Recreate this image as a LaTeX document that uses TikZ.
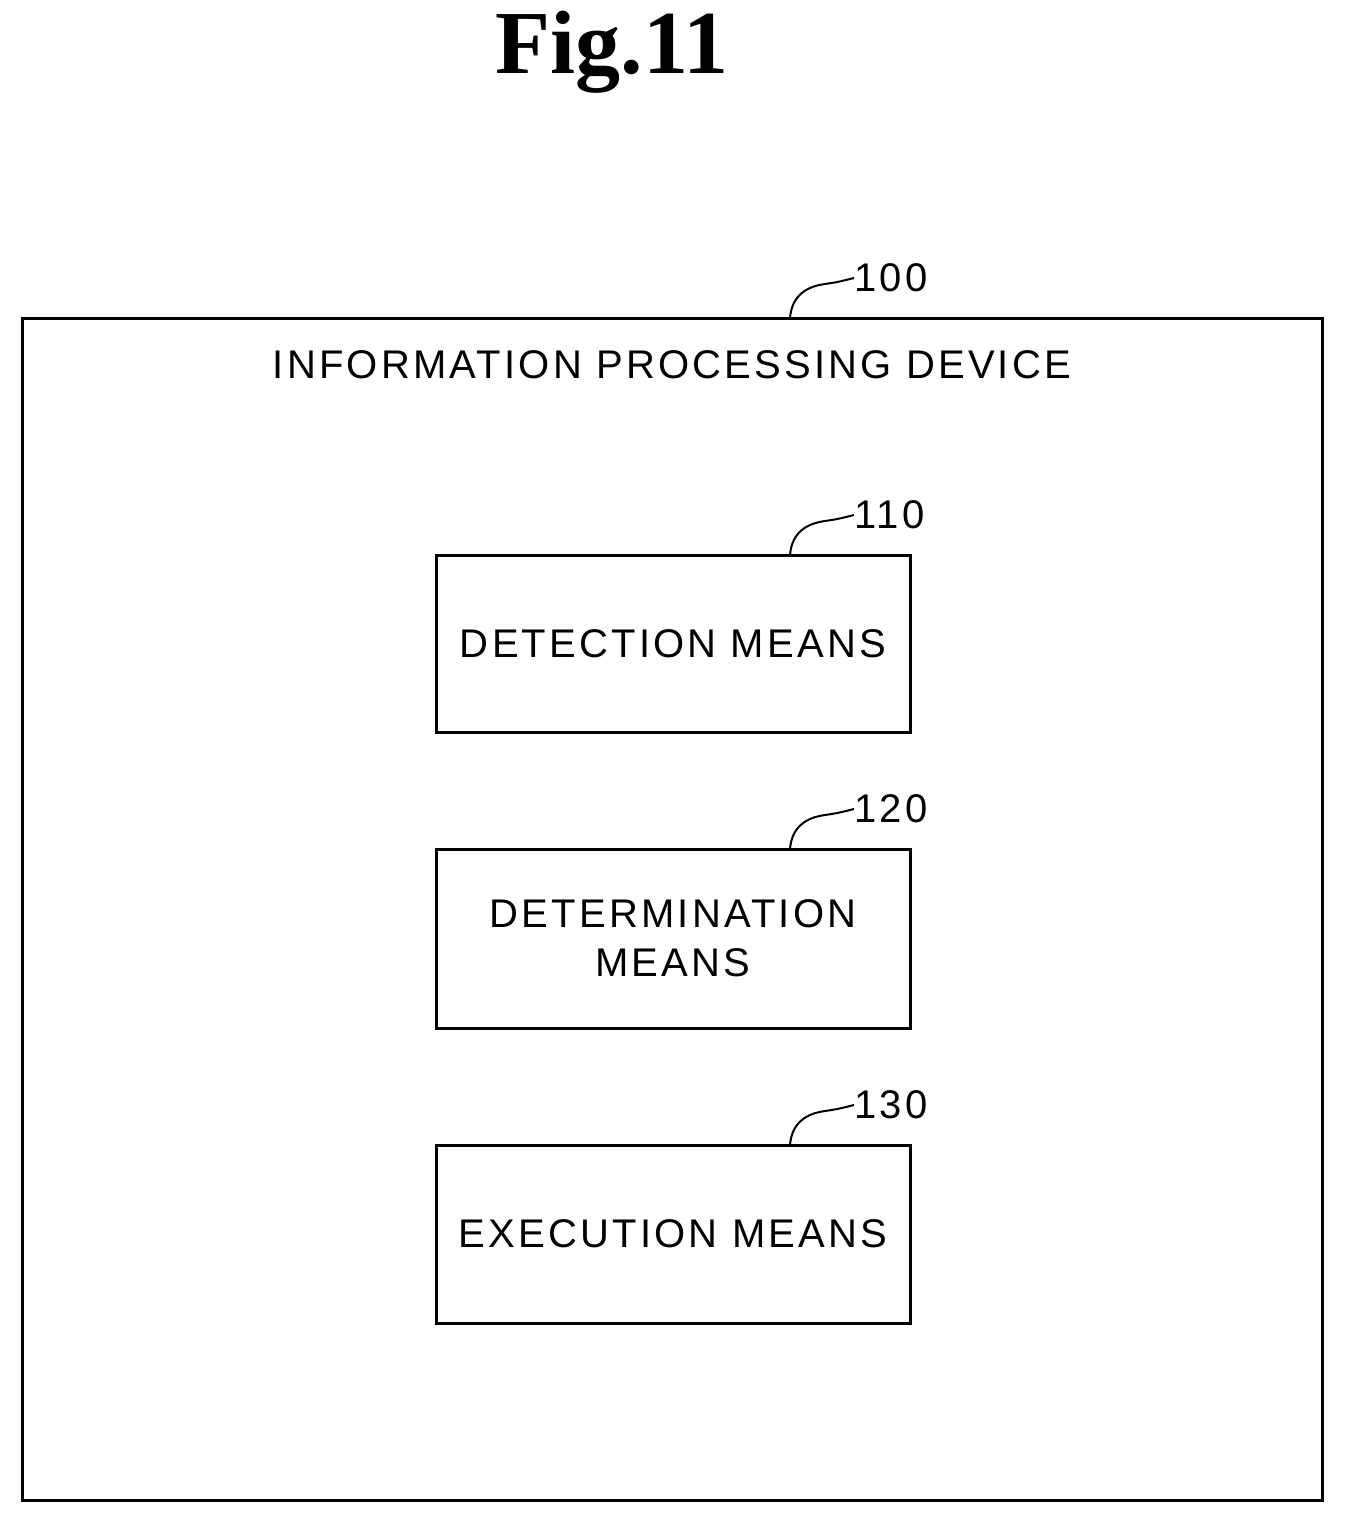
\documentclass[tikz,border=0pt]{standalone}
\usepackage{fontspec}
\setmainfont{Liberation Sans}[LetterSpace=8]
\newfontfamily\titlefont{Liberation Serif}
\begin{document}
\begin{tikzpicture}[x=0.5pt,y=-0.5pt,
  box/.style={draw,line width=1.5pt},
  lbl/.style={font=\fontsize{20}{24}\selectfont,inner sep=0pt},
  ref/.style={font=\fontsize{20}{22}\selectfont,anchor=west,inner sep=0pt},
  lead/.style={line width=1pt}]
\useasboundingbox (0,0) rectangle (1345,1523);
\node[font=\titlefont\bfseries\fontsize{45}{50}\selectfont] (title) at (612,52) {Fig.11};
\draw[box] (22,318) rectangle (1322,1500);
\node[lbl] (dev) at (672,365) {INFORMATION PROCESSING DEVICE};
\node[box,minimum width=237pt,minimum height=88.5pt,inner sep=0pt] (b1) at (673,643.5) {};
\node[lbl] at (b1) {DETECTION MEANS};
\node[box,minimum width=237pt,minimum height=89.5pt,inner sep=0pt] (b2) at (673,938.5) {};
\node[lbl,align=center,font=\fontsize{20}{24.5}\selectfont] at (b2) {DETERMINATION\\MEANS};
\node[box,minimum width=237pt,minimum height=89pt,inner sep=0pt] (b3) at (673,1234) {};
\node[lbl] at (b3) {EXECUTION MEANS};
\foreach \n/\t/\y in {r0/100/318, r1/110/555, r2/120/849, r3/130/1145}{
  \node[ref] (\n) at (854,\y-40) {\t};
  \coordinate (\n s) at (790,\y);
  \draw[lead] (\n s) .. controls (792,\y-25) and (810,\y-32) .. (825,\y-34) .. controls (838,\y-36) .. (\n.west);
}
\end{tikzpicture}
\end{document}
